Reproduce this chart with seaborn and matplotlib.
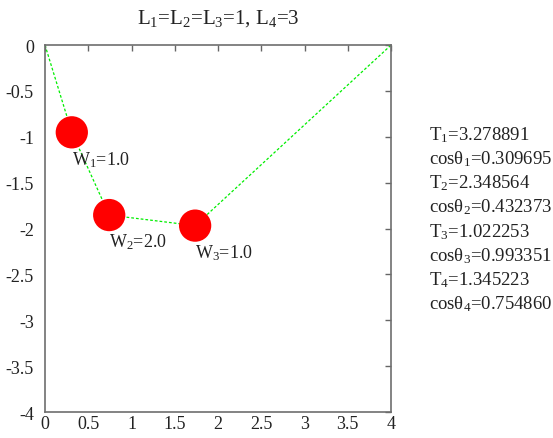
import matplotlib
matplotlib.use("Agg")
import matplotlib.pyplot as plt
import seaborn as sns
import pandas as pd

# data
node_x = [0.0, 0.3097, 0.7421, 1.7354, 4.0]
node_y = [0.0, -0.9508, -1.8525, -1.9676, 0.0]
weight_labels = ["W$_1$=1.0", "W$_2$=2.0", "W$_3$=1.0"]
side_text = ["T$_1$=3.278891", "cosθ$_1$=0.309695",
             "T$_2$=2.348564", "cosθ$_2$=0.432373",
             "T$_3$=1.022253", "cosθ$_3$=0.993351",
             "T$_4$=1.345223", "cosθ$_4$=0.754860"]
title_text = "L$_1$=L$_2$=L$_3$=1, L$_4$=3"
x_ticks = [0, 0.5, 1, 1.5, 2, 2.5, 3, 3.5, 4]
y_ticks = [0, -0.5, -1, -1.5, -2, -2.5, -3, -3.5, -4]

sns.set_theme(style="white")
plt.rcParams['font.family'] = ['Liberation Serif', 'DejaVu Serif']
plt.rcParams['mathtext.fontset'] = 'custom'
plt.rcParams['mathtext.rm'] = 'Liberation Serif'
plt.rcParams['mathtext.it'] = 'Liberation Serif:italic'

fig = plt.figure(figsize=(5.53, 4.39), dpi=100)
ax = fig.add_axes([0.0814, 0.059, 0.6257, 0.836])

line_df = pd.DataFrame({"x": node_x, "y": node_y})
sns.lineplot(data=line_df, x="x", y="y", ax=ax, sort=False, color="#00ee00",
             lw=0.9, linestyle=(0, (2.2, 1.6)), estimator=None)
pts = pd.DataFrame({"x": node_x[1:4], "y": node_y[1:4]})
sns.scatterplot(data=pts, x="x", y="y", ax=ax, s=540, color="#ff0000",
                edgecolor="none", linewidth=0, zorder=3)
for i, lab in enumerate(weight_labels):
    ax.annotate(lab, (node_x[i + 1], node_y[i + 1]), xytext=(0, -19),
                textcoords="offset points", fontsize=13, color="#222222",
                ha="left", va="center")

ax.set_xlim(0, 4)
ax.set_ylim(-4, 0)
ax.set_xticks(x_ticks)
ax.set_xticklabels([f"{t:g}" for t in x_ticks])
ax.set_yticks(y_ticks)
ax.set_yticklabels([f"{t:g}" for t in y_ticks])
ax.set_xlabel("")
ax.set_ylabel("")
ax.tick_params(direction="in", length=4, width=1.0, color="#666666",
               top=True, right=True, labelsize=13, labelcolor="#222222")
ax.tick_params(axis="x", pad=2)
ax.tick_params(axis="y", pad=8)
for s in ax.spines.values():
    s.set_color("#6e6e6e")
    s.set_linewidth(1.2)

fig.text(0.394, 0.958, title_text, ha="center", va="center", fontsize=15,
         color="#222222")
for i, t in enumerate(side_text):
    fig.text(0.776, 1 - (135 + 24.2 * i) / 439, t, ha="left", va="center",
             fontsize=13.5, color="#222222")

fig.savefig("out.png", dpi=100)
